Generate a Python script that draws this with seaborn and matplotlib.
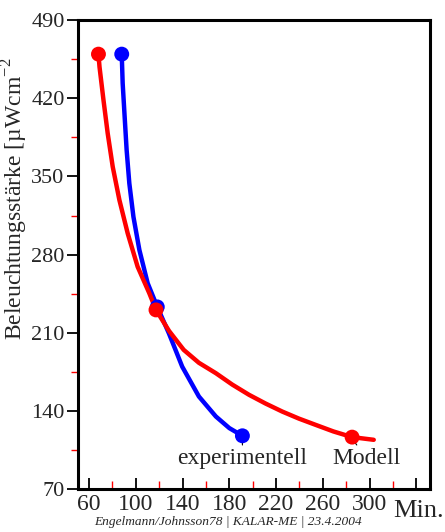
import matplotlib
matplotlib.use("Agg")
import matplotlib.pyplot as plt
from matplotlib.ticker import FixedLocator
import pandas as pd
import seaborn as sns

# Illuminance vs. time: model curve and experimental curve
modell_min = [68.1, 69.0, 72.4, 76.0, 80.3, 86.0, 93.1, 101.6, 111.6, 117.3,
              128.5, 141.0, 154.0, 168.5, 182.5, 196.9, 211.0, 225.3, 239.5,
              253.8, 269.0, 285.0, 303.5]
modell_lux = [459.6, 448.2, 418.4, 388.6, 358.7, 328.9, 299.0, 269.1, 245.3, 230.4,
              211.5, 194.6, 183.0, 173.7, 163.5, 154.3, 146.5, 139.3, 133.0,
              127.4, 121.5, 116.4, 114.0]

exp_min = [88.0, 88.8, 90.5, 92.2, 94.5, 98.0, 103.1, 110.2, 118.4, 128.3,
           139.7, 154.0, 168.5, 180.0, 191.2]
exp_lux = [459.6, 433.6, 403.4, 373.6, 343.8, 313.9, 284.1, 254.3, 233.1, 209.5,
           179.6, 152.8, 134.9, 124.5, 117.6]

# highlighted points on both curves
modell_pts_min = [68.1, 117.3, 285.0]
modell_pts_lux = [459.6, 230.4, 116.4]
exp_pts_min = [88.0, 118.4, 191.2]
exp_pts_lux = [459.6, 233.1, 117.6]

x_ticks = [60, 100, 140, 180, 220, 260, 300, 340]
x_ticklabels = ["60", "100", "140", "180", "220", "260", "300", ""]
x_minor = [80, 120, 160, 200, 240, 280, 320]
y_ticks = [70, 140, 210, 280, 350, 420, 490]
y_minor = [105, 175, 245, 315, 385, 455]

curves = pd.concat([
    pd.DataFrame({"Min": exp_min, "E": exp_lux, "Kurve": "experimentell"}),
    pd.DataFrame({"Min": modell_min, "E": modell_lux, "Kurve": "Modell"}),
])
points = pd.concat([
    pd.DataFrame({"Min": exp_pts_min, "E": exp_pts_lux, "Kurve": "experimentell"}),
    pd.DataFrame({"Min": modell_pts_min, "E": modell_pts_lux, "Kurve": "Modell"}),
])
palette = {"experimentell": "#0000ff", "Modell": "#ff0000"}

sns.set_theme(style="white")
plt.rcParams["font.family"] = ["Liberation Serif", "DejaVu Serif"]
plt.rcParams["mathtext.fontset"] = "custom"
plt.rcParams["mathtext.rm"] = "Liberation Serif"

fig = plt.figure(figsize=(4.45, 5.32), dpi=100)
ax = fig.add_axes([0.175, 0.081, 0.791, 0.881])

sns.lineplot(data=curves, x="Min", y="E", hue="Kurve", palette=palette,
             estimator=None, sort=False, linewidth=3.2, legend=False, ax=ax,
             zorder=3)
sns.scatterplot(data=points, x="Min", y="E", hue="Kurve", palette=palette,
                s=115, linewidth=0, legend=False, ax=ax, zorder=4)

ax.set_xlim(50.5, 351.5)
ax.set_ylim(70, 490)
ax.set_xlabel("")
ax.set_ylabel("Beleuchtungsstärke [µWcm$^{-2}$", fontsize=17)
ax.yaxis.set_label_coords(-0.135, 0.62)

for s in ax.spines.values():
    s.set_visible(True)
    s.set_color("black")
    s.set_linewidth(2.2)

ax.xaxis.set_major_locator(FixedLocator(x_ticks))
ax.set_xticklabels(x_ticklabels)
ax.xaxis.set_minor_locator(FixedLocator(x_minor))
ax.yaxis.set_major_locator(FixedLocator(y_ticks))
ax.yaxis.set_minor_locator(FixedLocator(y_minor))

ax.tick_params(axis="x", which="major", direction="in", length=8, width=1.3,
               color="black", labelsize=17, pad=4, bottom=True)
ax.tick_params(axis="x", which="minor", direction="in", length=6, width=1.0,
               color="red", bottom=True)
ax.tick_params(axis="y", which="major", direction="out", length=8, width=1.3,
               color="black", labelsize=16, pad=1.5, left=True)
ax.tick_params(axis="y", which="minor", direction="out", length=5, width=1.0,
               color="red", left=True)
ax.grid(False)

ax.text(341.5, 60, "Min.", fontsize=19, ha="center", va="top", clip_on=False)

ax.annotate("experimentell", xy=(191.2, 111.5), xytext=(191.2, 97),
            fontsize=17, ha="center", va="center",
            arrowprops=dict(arrowstyle="-", color="black", lw=0.8,
                            shrinkA=8, shrinkB=0))
ax.annotate("Modell", xy=(287.5, 111.5), xytext=(297.5, 97),
            fontsize=17, ha="center", va="center",
            arrowprops=dict(arrowstyle="-", color="black", lw=0.8,
                            shrinkA=9, shrinkB=0))

fig.text(0.512, 0.019, "Engelmann/Johnsson78 | KALAR-ME | 23.4.2004",
         fontsize=9.6, style="italic", ha="center", va="center")

fig.savefig("out.png", dpi=100)
